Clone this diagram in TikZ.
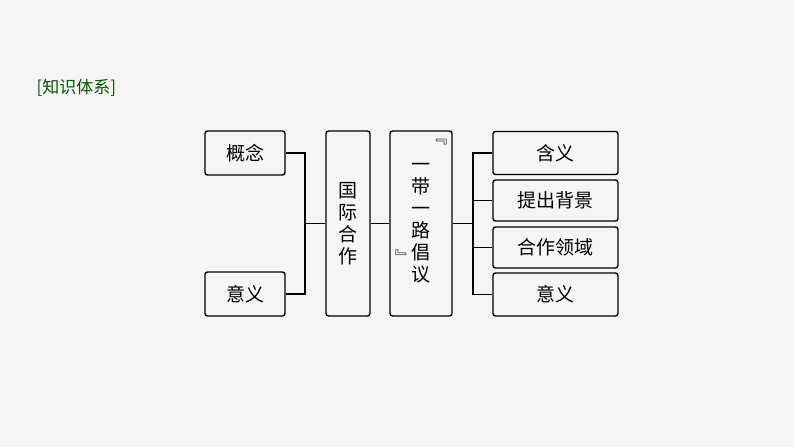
\documentclass[tikz,border=0pt]{standalone}
\usepackage{fontspec}
\newfontfamily\cjk{Noto Sans CJK SC}
\begin{document}
\begin{tikzpicture}[x=1pt,y=-1pt,
 bx/.style={draw=black,line width=1.4pt,rounded corners=2.5pt,font=\cjk\fontsize{19}{21}\selectfont,inner sep=0pt},
 ln/.style={line width=1.2pt}]
\fill[black!4] (0,0) rectangle (794,447);
\useasboundingbox (0,0) rectangle (794,447);
\node[font=\cjk\fontsize{17}{20}\selectfont,text=green!35!black,anchor=west] (t) at (33,88) {[知识体系]};
\node[bx,minimum width=80,minimum height=44] (a) at (245,153) {概念};
\node[bx,minimum width=80,minimum height=44] (b) at (245,294) {意义};
\node[bx,minimum width=44,minimum height=185,align=center] (c) at (348,223.5) {国\\[1pt]际\\[1pt]合\\[1pt]作};
\node[bx,minimum width=62,minimum height=185,align=center] (d) at (421,223.5) {一\\[1pt]带\\[1pt]一\\[1pt]路\\[1pt]倡\\[1pt]议};
\node[font=\cjk\fontsize{16}{16}\selectfont] (q1) at (439,142) {﹃};
\node[font=\cjk\fontsize{16}{16}\selectfont] (q2) at (403,257) {﹄};
\node[bx,minimum width=125,minimum height=43] (r1) at (555.5,153) {含义};
\node[bx,minimum width=125,minimum height=41] (r2) at (555.5,200.5) {提出背景};
\node[bx,minimum width=125,minimum height=41] (r3) at (555.5,247.5) {合作领域};
\node[bx,minimum width=125,minimum height=43] (r4) at (555.5,294.5) {意义};
\coordinate (m1) at (305,223.5);
\draw[ln] (a.east) -| (m1) |- (b.east);
\draw[ln] (m1) -- (c.west);
\draw[ln] (c.east) -- (d.west);
\coordinate (m2) at (473,223.5);
\draw[ln] (d.east) -- (m2);
\draw[ln] (r1.west) -| (m2) |- (r4.west);
\draw[ln] (r2.west) -- (r2.west -| m2);
\draw[ln] (r3.west) -- (r3.west -| m2);
\end{tikzpicture}
\end{document}
